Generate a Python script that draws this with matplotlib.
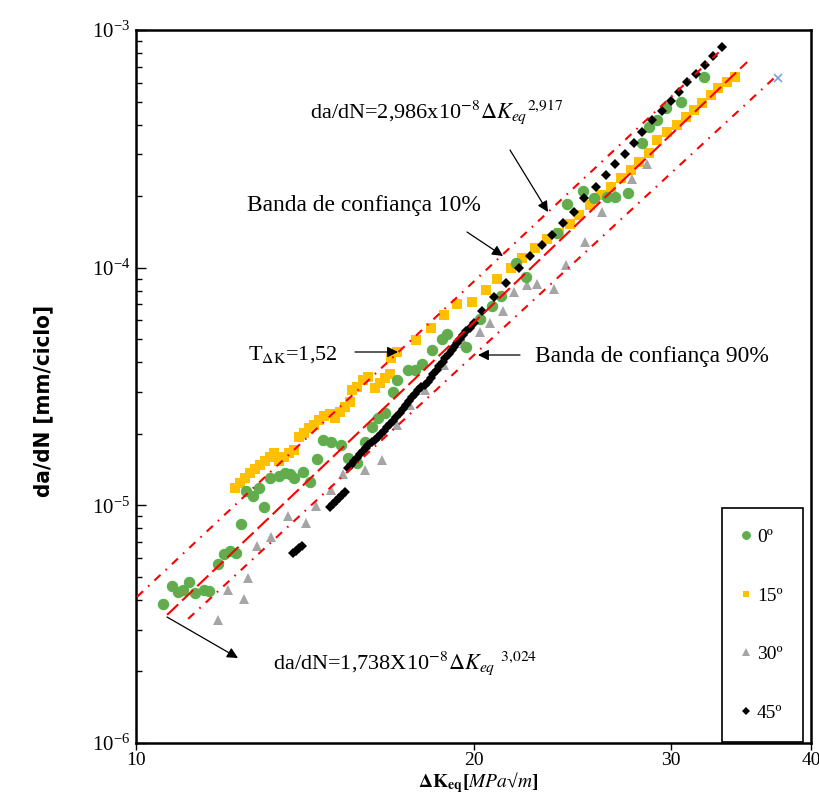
import numpy as np
import matplotlib
matplotlib.use("Agg")
import matplotlib.pyplot as plt
from matplotlib.ticker import FixedLocator, NullLocator, LogLocator, NullFormatter, FixedFormatter

plt.rcParams['font.family'] = ['Liberation Serif', 'DejaVu Serif']
plt.rcParams['mathtext.fontset'] = 'stix'
plt.rcParams['lines.scale_dashes'] = False

# 0 graus
k_0 = [10.57, 10.77, 10.90, 11.01, 11.15, 11.28, 11.50, 11.62, 11.83, 11.98, 12.12, 12.28,
       12.40, 12.53, 12.71, 12.87, 13.00, 13.16, 13.41, 13.57, 13.71, 13.83, 14.08, 14.29,
       14.49, 14.67, 14.94, 15.22, 15.44, 15.73, 15.99, 16.23, 16.43, 16.67, 16.94, 17.08,
       17.47, 17.72, 17.98, 18.35, 18.73, 18.96, 19.71, 20.25, 20.79, 21.18, 21.84, 22.29,
       23.76, 24.25, 25.06, 25.64, 26.33, 26.76, 27.49, 28.29, 28.70, 29.18, 29.72, 30.65, 32.13]
rate_0 = [3.85e-6, 4.58e-6, 4.32e-6, 4.41e-6, 4.76e-6, 4.28e-6, 4.41e-6, 4.36e-6, 5.67e-6, 6.24e-6,
          6.43e-6, 6.31e-6, 8.35e-6, 1.150e-5, 1.095e-5, 1.183e-5, 9.85e-6, 1.304e-5, 1.329e-5,
          1.368e-5, 1.355e-5, 1.304e-5, 1.382e-5, 1.255e-5, 1.567e-5, 1.884e-5, 1.848e-5, 1.795e-5,
          1.582e-5, 1.508e-5, 1.848e-5, 2.137e-5, 2.332e-5, 2.447e-5, 3.000e-5, 3.370e-5, 3.712e-5,
          3.712e-5, 3.935e-5, 4.506e-5, 5.012e-5, 5.26e-5, 4.64e-5, 6.08e-5, 6.90e-5, 7.60e-5,
          1.047e-4, 9.14e-5, 1.400e-4, 1.853e-4, 2.102e-4, 1.964e-4, 1.983e-4, 1.983e-4, 2.061e-4,
          3.346e-4, 3.906e-4, 4.18e-4, 4.70e-4, 4.98e-4, 6.34e-4]

# 15 graus
k_15 = [12.25, 12.38, 12.51, 12.64, 12.76, 12.89, 13.03, 13.16, 13.27, 13.41, 13.55, 13.68,
        13.83, 13.97, 14.11, 14.26, 14.40, 14.55, 14.70, 14.89, 15.04, 15.19, 15.35, 15.51,
        15.57, 15.73, 15.93, 16.12, 16.33, 16.49, 16.67, 16.84, 16.90, 17.08, 17.76, 18.31,
        18.84, 19.35, 19.92, 20.50, 21.01, 21.62, 22.11, 22.67, 23.28, 23.86, 24.36, 24.86,
        25.43, 26.00, 26.54, 27.09, 27.65, 28.11, 28.70, 29.18, 29.78, 30.40, 30.96, 31.47,
        31.99, 32.58, 33.06, 33.67, 34.23]
rate_15 = [1.183e-5, 1.242e-5, 1.304e-5, 1.368e-5, 1.422e-5, 1.479e-5, 1.538e-5, 1.597e-5, 1.660e-5,
           1.538e-5, 1.597e-5, 1.660e-5, 1.710e-5, 1.940e-5, 2.017e-5, 2.117e-5, 2.179e-5, 2.287e-5,
           2.377e-5, 2.424e-5, 2.332e-5, 2.471e-5, 2.594e-5, 2.723e-5, 3.058e-5, 3.148e-5, 3.370e-5,
           3.469e-5, 3.117e-5, 3.272e-5, 3.436e-5, 3.571e-5, 4.170e-5, 4.419e-5, 4.963e-5, 5.573e-5,
           6.324e-5, 7.037e-5, 7.175e-5, 8.054e-5, 8.96e-5, 9.97e-5, 1.099e-4, 1.210e-4, 1.321e-4,
           1.400e-4, 1.527e-4, 1.666e-4, 1.836e-4, 2.022e-4, 2.185e-4, 2.385e-4, 2.576e-4, 2.784e-4,
           3.037e-4, 3.445e-4, 3.723e-4, 3.985e-4, 4.305e-4, 4.607e-4, 4.93e-4, 5.33e-4, 5.70e-4,
           6.04e-4, 6.34e-4]

# 30 graus
k_30 = [11.83, 12.07, 12.48, 12.58, 12.81, 13.19, 13.66, 14.17, 14.46, 14.92, 15.29, 15.99,
        16.56, 17.08, 17.54, 18.09, 18.84, 19.63, 20.25, 20.71, 21.23, 21.75, 22.34, 22.80,
        23.61, 24.20, 25.16, 26.06, 26.82, 27.71, 28.58]
rate_30 = [3.29e-6, 4.41e-6, 4.04e-6, 4.95e-6, 6.75e-6, 7.36e-6, 9.03e-6, 8.43e-6, 9.94e-6,
           1.161e-5, 1.355e-5, 1.409e-5, 1.552e-5, 2.179e-5, 2.645e-5, 3.058e-5, 3.897e-5, 4.82e-5,
           5.36e-5, 5.85e-5, 6.57e-5, 7.90e-5, 8.46e-5, 8.54e-5, 8.13e-5, 1.026e-4, 1.283e-4,
           1.715e-4, 2.002e-4, 2.362e-4, 2.730e-4]

# 45 graus
k_45 = [13.80, 13.88, 13.97, 14.06,
        14.89, 14.98, 15.07, 15.16, 15.26, 15.35,
        15.44, 15.54, 15.64, 15.73, 15.83, 15.93, 16.03, 16.12, 16.23, 16.33,
        16.43, 16.53, 16.64, 16.74, 16.84, 16.94, 17.05, 17.19,
        17.30, 17.40, 17.51, 17.62, 17.72, 17.83, 17.94,
        18.09, 18.20, 18.31, 18.42,
        18.54, 18.65, 18.77, 18.88, 19.00, 19.12, 19.23, 19.35, 19.47, 19.59, 19.71, 19.84, 20.00,
        20.37, 20.87, 21.40, 21.98, 22.48, 23.04, 23.51, 24.05, 24.60, 25.11, 25.74, 26.27, 26.76,
        27.31, 27.82, 28.29, 28.86, 29.46, 30.02, 30.51, 31.02, 31.60, 32.19, 32.72, 33.33]
rate_45 = [6.31e-6, 6.43e-6, 6.62e-6, 6.75e-6,
           9.85e-6, 1.014e-5, 1.043e-5, 1.074e-5, 1.106e-5, 1.139e-5,
           1.436e-5, 1.479e-5, 1.538e-5, 1.582e-5, 1.645e-5, 1.693e-5, 1.743e-5, 1.795e-5, 1.848e-5, 1.884e-5,
           1.940e-5, 1.998e-5, 2.056e-5, 2.137e-5, 2.200e-5, 2.265e-5, 2.354e-5, 2.447e-5,
           2.543e-5, 2.645e-5, 2.749e-5, 2.858e-5, 2.942e-5, 3.058e-5, 3.148e-5,
           3.210e-5, 3.304e-5, 3.436e-5, 3.571e-5,
           3.712e-5, 3.858e-5, 4.011e-5, 4.170e-5, 4.334e-5, 4.506e-5, 4.64e-5, 4.82e-5, 5.01e-5,
           5.21e-5, 5.42e-5, 5.57e-5, 5.85e-5,
           6.57e-5, 7.53e-5, 8.62e-5, 9.97e-5, 1.120e-4, 1.246e-4, 1.373e-4, 1.542e-4, 1.715e-4,
           1.964e-4, 2.185e-4, 2.455e-4, 2.730e-4, 3.008e-4, 3.346e-4, 3.723e-4, 4.18e-4, 4.56e-4,
           5.03e-4, 5.48e-4, 6.04e-4, 6.53e-4, 7.13e-4, 7.77e-4, 8.48e-4]

# ponto isolado (x azul)
k_extra = [37.4]
rate_extra = [6.3e-4]

# retas de ajuste e bandas de confiança (extremos)
fit_k = [10.66, 35.08]
fit_rate = [3.46e-6, 7.33e-4]
band10_k = [10.02, 33.26]
band10_rate = [4.12e-6, 8.24e-4]
band90_k = [11.13, 37.08]
band90_rate = [3.33e-6, 6.28e-4]

W, H = 819, 800
fig = plt.figure(figsize=(W / 100, H / 100), dpi=100)
ax = fig.add_axes([136 / W, 57 / H, 675 / W, 713 / H])
ax.set_xscale('log')
ax.set_yscale('log')
ax.set_xlim(10, 40)
ax.set_ylim(1e-6, 1e-3)


def pos(px, py):
    # pixel da imagem -> fracao dos eixos
    return ((px - 136) / 675, (743 - py) / 713)


ax.plot(k_15, rate_15, 's', color='#ffc000', ms=6.5, mew=0, zorder=3, label='15º')
ax.plot(k_30, rate_30, '^', color='#a5a5a5', ms=7.5, mew=0, zorder=3, label='30º')
ax.plot(k_0, rate_0, 'o', color='#6aa84f', mec='#4cb848', ms=7.4, mew=0.8, zorder=4, label='0º')
ax.plot(k_45, rate_45, 'D', color='black', ms=5.2, mew=0, zorder=5, label='45º')
ax.plot(k_extra, rate_extra, 'x', color='#7f9fd6', ms=6, mew=1.2, zorder=5)

ax.plot(fit_k, fit_rate, color='red', lw=1.5, dashes=(11, 4), zorder=6)
ax.plot(band10_k, band10_rate, color='red', lw=1.5, dashes=(6, 5, 1.2, 5), zorder=6)
ax.plot(band90_k, band90_rate, color='red', lw=1.5, dashes=(6, 5, 1.2, 5), zorder=6)

# eixos
ax.xaxis.set_major_locator(FixedLocator([10, 20, 30, 40]))
ax.xaxis.set_major_formatter(FixedFormatter(['10', '20', '30', '40']))
ax.xaxis.set_minor_locator(NullLocator())
ax.tick_params(axis='x', direction='out', length=5, width=1, labelsize=14, pad=1.5)
ax.yaxis.set_major_locator(LogLocator(base=10))
ax.yaxis.set_minor_locator(LogLocator(base=10, subs=np.arange(2, 10)))
ax.yaxis.set_minor_formatter(NullFormatter())
ax.tick_params(axis='y', which='major', direction='in', length=7, width=1, labelsize=15, pad=4)
ax.tick_params(axis='y', which='minor', direction='in', length=4, width=1)
for s in ax.spines.values():
    s.set_linewidth(1.8)

ax.set_ylabel('da/dN [mm/ciclo]', fontsize=16, fontweight='bold',
              family=['DejaVu Sans'], fontstretch='condensed')
ax.yaxis.set_label_coords(-0.122, 0.48)
ax.set_xlabel(r'$\mathbf{\Delta K_{eq}}$[$\mathit{MPa}$√$\mathit{m}$]', fontsize=14, fontweight='bold')
ax.xaxis.set_label_coords(0.507, -0.038)

leg = ax.legend(handles=[ax.lines[2], ax.lines[0], ax.lines[1], ax.lines[3]],
                loc='lower right', bbox_to_anchor=pos(803, 742), fontsize=14,
                frameon=True, fancybox=False, edgecolor='black', framealpha=1,
                labelspacing=2.1, borderpad=1.05, handlelength=0.4, handletextpad=0.35,
                markerscale=0.75, borderaxespad=0)
leg.get_frame().set_linewidth(1.2)

arrow = dict(arrowstyle='-|>', color='black', lw=0.9, mutation_scale=16, shrinkA=0, shrinkB=0)
fs_eq = 16
fs_txt = 16.9

ax.annotate(r'da/dN=2,986x10$^{-8}$$\Delta \mathit{K}_{eq}$$^{2{,}917}$',
            xy=pos(310, 112), xycoords='axes fraction', fontsize=fs_eq, va='center', ha='left')
ax.annotate('', xy=pos(548, 212), xytext=pos(510, 150), xycoords='axes fraction',
            textcoords='axes fraction', arrowprops=arrow)

ax.annotate('Banda de confiança 10%', xy=pos(247, 205), xycoords='axes fraction',
            fontsize=fs_txt, va='center', ha='left')
ax.annotate('', xy=pos(503, 256), xytext=pos(467, 232), xycoords='axes fraction',
            textcoords='axes fraction', arrowprops=arrow)

ax.annotate(r'T$_{\mathrm{\Delta K}}$=1,52', xy=pos(248, 355), xycoords='axes fraction',
            fontsize=fs_eq, va='center', ha='left')
ax.annotate('', xy=pos(398, 352), xytext=pos(355, 352), xycoords='axes fraction',
            textcoords='axes fraction', arrowprops=arrow)

ax.annotate('Banda de confiança 90%', xy=pos(535, 357), xycoords='axes fraction',
            fontsize=fs_txt, va='center', ha='left')
ax.annotate('', xy=pos(478, 355), xytext=pos(520, 355), xycoords='axes fraction',
            textcoords='axes fraction', arrowprops=arrow)

ax.annotate(r'da/dN=1,738X10$^{-8}$$\Delta \mathit{K}_{eq}$ $^{3{,}024}$',
            xy=pos(273, 663), xycoords='axes fraction', fontsize=fs_eq, va='center', ha='left')
ax.annotate('', xy=pos(238, 658), xytext=pos(167, 617), xycoords='axes fraction',
            textcoords='axes fraction', arrowprops=arrow)

fig.savefig('out.png', dpi=100)
